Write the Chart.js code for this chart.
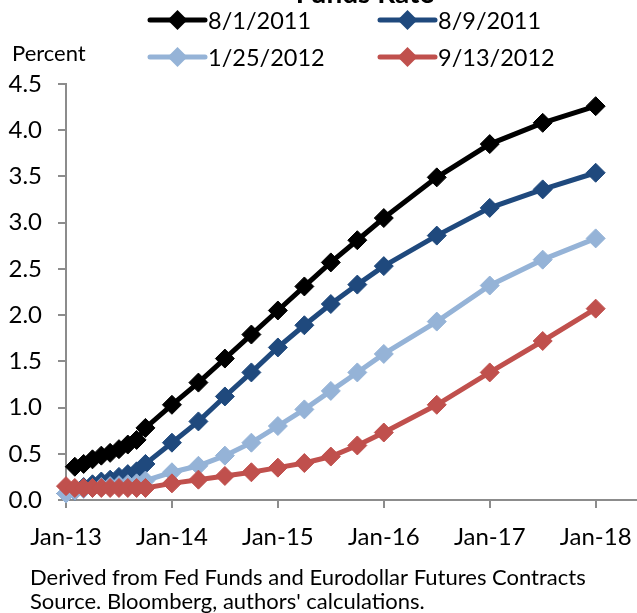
<!DOCTYPE html>
<html>
<head>
<meta charset="utf-8">
<script src="https://cdn.jsdelivr.net/npm/chart.js@4.4.0/dist/chart.umd.min.js"></script>
<style>
  html, body { margin: 0; padding: 0; background: #fff; }
  #wrap { position: relative; width: 637px; height: 613px; overflow: hidden; }
</style>
</head>
<body>
<div id="wrap"><canvas id="chart" width="637" height="613"></canvas></div>
<script>
const FONT = "Lato";
const AXIS_COLOR = "#8c8c8c";

// contract months (fed funds monthly, then eurodollar quarterly)
const contractDates = [
  "2013-01", "2013-02", "2013-03", "2013-04", "2013-05", "2013-06", "2013-07", "2013-08", "2013-09", "2013-10",
  "2014-01", "2014-04", "2014-07", "2014-10",
  "2015-01", "2015-04", "2015-07", "2015-10",
  "2016-01", "2016-07", "2017-01", "2017-07", "2018-01",
];

const seriesNames = ["8/1/2011", "8/9/2011", "1/25/2012", "9/13/2012"];
const seriesColors = ["#000000", "#1f497d", "#95b3d7", "#c0504d"];

const aug1_2011 = [null, 0.36, 0.39, 0.44, 0.48, 0.51, 0.55, 0.60, 0.65, 0.78,
  1.03, 1.27, 1.53, 1.79, 2.05, 2.31, 2.57, 2.81, 3.05, 3.49, 3.85, 4.08, 4.26];
const aug9_2011 = [0.07, 0.10, 0.14, 0.17, 0.20, 0.22, 0.25, 0.28, 0.31, 0.39,
  0.62, 0.85, 1.12, 1.38, 1.65, 1.89, 2.12, 2.33, 2.53, 2.86, 3.16, 3.36, 3.54];
const jan25_2012 = [0.07, 0.10, 0.12, 0.13, 0.14, 0.15, 0.16, 0.17, 0.18, 0.21,
  0.30, 0.37, 0.48, 0.62, 0.80, 0.98, 1.18, 1.38, 1.58, 1.93, 2.32, 2.60, 2.83];
const sep13_2012 = [0.15, 0.13, 0.13, 0.13, 0.13, 0.13, 0.13, 0.13, 0.13, 0.13,
  0.18, 0.22, 0.26, 0.30, 0.35, 0.40, 0.47, 0.59, 0.73, 1.03, 1.38, 1.72, 2.07];

const xTickLabels = ["Jan-13", "Jan-14", "Jan-15", "Jan-16", "Jan-17", "Jan-18"];
const yTicks = [0, 0.5, 1.0, 1.5, 2.0, 2.5, 3.0, 3.5, 4.0, 4.5];

const footnotes = [
  "Derived from Fed Funds and Eurodollar Futures Contracts",
  "Source. Bloomberg, authors' calculations.",
];

function toYear(s) {
  const [y, m] = s.split("-").map(Number);
  return y + (m - 1) / 12;
}

const allValues = [aug1_2011, aug9_2011, jan25_2012, sep13_2012];

function makeDataset(i) {
  return {
    label: seriesNames[i],
    data: contractDates.map((d, k) => ({ x: toYear(d), y: allValues[i][k] })),
    borderColor: seriesColors[i],
    backgroundColor: seriesColors[i],
    borderWidth: 5,
    pointStyle: "rectRot",
    pointRadius: 9.5,
    pointBorderWidth: 1,
    pointBackgroundColor: seriesColors[i],
    pointBorderColor: seriesColors[i],
    tension: 0,
    clip: false,
    order: 4 - i,
  };
}

const extraText = {
  id: "extraText",
  afterDraw(chart) {
    const ctx = chart.ctx;
    ctx.save();
    ctx.fillStyle = "#000";

    // title, mostly cut off at top
    ctx.font = `bold 28px ${FONT}`;
    ctx.textAlign = "center";
    ctx.textBaseline = "alphabetic";
    ctx.fillText("Funds Rate", 365, 3);

    ctx.textAlign = "left";
    ctx.textBaseline = "middle";
    ctx.font = `22px ${FONT}`;
    ctx.fillText("Percent", 12, 54);

    // legend in two columns
    const slots = [[150, 20], [380, 20], [150, 57], [380, 57]];
    slots.forEach(([lx, ly], i) => {
      ctx.strokeStyle = seriesColors[i];
      ctx.lineWidth = 5;
      ctx.lineCap = "round";
      ctx.beginPath();
      ctx.moveTo(lx, ly);
      ctx.lineTo(lx + 55, ly);
      ctx.stroke();
      const cx = lx + 27.5, r = 10;
      ctx.fillStyle = seriesColors[i];
      ctx.beginPath();
      ctx.moveTo(cx - r, ly);
      ctx.lineTo(cx, ly - r);
      ctx.lineTo(cx + r, ly);
      ctx.lineTo(cx, ly + r);
      ctx.closePath();
      ctx.fill();
      ctx.fillStyle = "#000";
      ctx.font = `23.5px ${FONT}`;
      ctx.fillText(seriesNames[i], lx + 58, ly + 1);
    });

    ctx.textBaseline = "alphabetic";
    ctx.font = `22px ${FONT}`;
    ctx.fillText(footnotes[0], 30, 585);
    ctx.fillText(footnotes[1], 30, 609);
    ctx.restore();
  }
};

new Chart(document.getElementById("chart"), {
  type: "line",
  data: { datasets: [0, 1, 2, 3].map(makeDataset) },
  options: {
    responsive: false,
    animation: false,
    devicePixelRatio: 1,
    layout: { autoPadding: false, padding: { top: 84, right: 0, bottom: 0, left: 0 } },
    plugins: {
      legend: { display: false },
      tooltip: { enabled: false },
    },
    scales: {
      x: {
        type: "linear",
        min: 2013,
        max: 2018.39,
        afterBuildTicks(scale) {
          scale.ticks = xTickLabels.map((_, i) => ({ value: 2013 + i }));
        },
        ticks: {
          includeBounds: false,
          autoSkip: false,
          maxRotation: 0,
          padding: 15,
          color: "#000",
          font: { family: FONT, size: 24 },
          callback: (v) => xTickLabels[Math.round(v - 2013)] ?? "",
        },
        grid: { display: true, drawOnChartArea: false, drawTicks: true, tickLength: 8, color: AXIS_COLOR, lineWidth: 2 },
        border: { display: true, color: AXIS_COLOR, width: 2 },
        afterFit(scale) {
          scale.height = 113;
          scale.paddingLeft = 0;
          scale.paddingRight = 0;
        },
      },
      y: {
        min: 0,
        max: 4.5,
        afterBuildTicks(scale) {
          scale.ticks = yTicks.map(v => ({ value: v }));
        },
        ticks: {
          padding: 16,
          color: "#000",
          font: { family: FONT, size: 24 },
          callback: (v) => Number(v).toFixed(1),
        },
        grid: { display: true, drawOnChartArea: false, drawTicks: true, tickLength: 8, color: AXIS_COLOR, lineWidth: 2 },
        border: { display: true, color: AXIS_COLOR, width: 2 },
        afterFit(scale) { scale.width = 66; },
      },
    },
  },
  plugins: [extraText],
});
</script>
</body>
</html>
